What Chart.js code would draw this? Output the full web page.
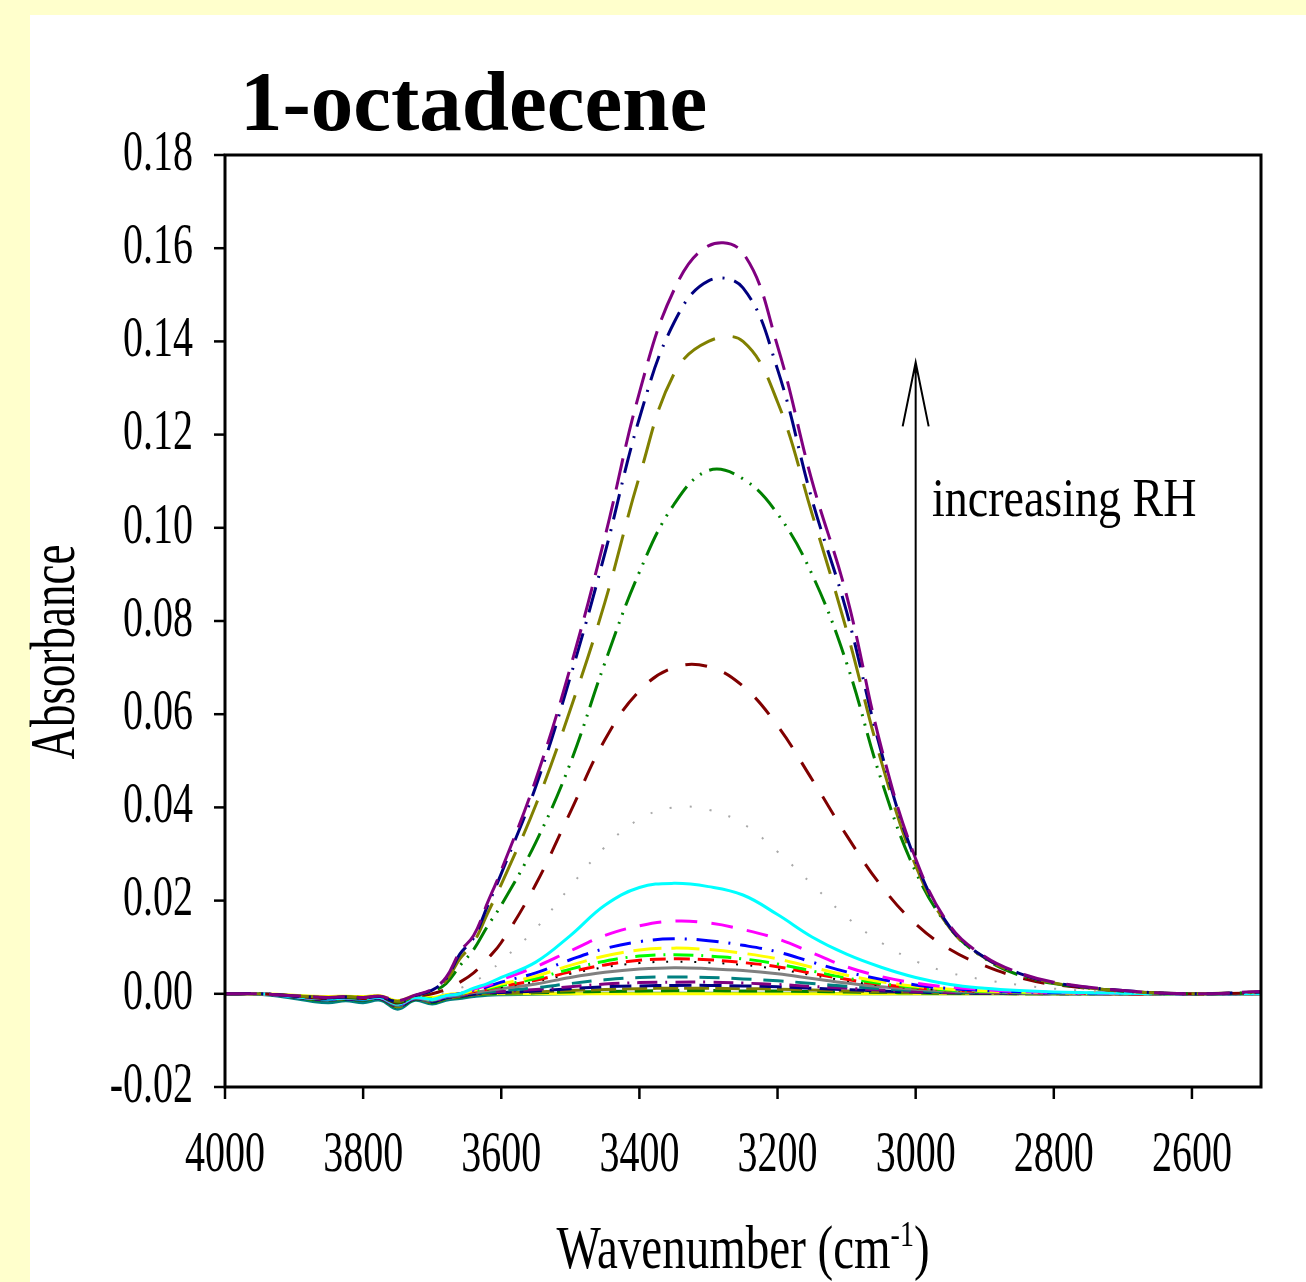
<!DOCTYPE html>
<html>
<head>
<meta charset="utf-8">
<script src="https://cdn.jsdelivr.net/npm/chart.js@4.4.1/dist/chart.umd.min.js"></script>
<style>
  html, body { margin: 0; padding: 0; background: #ffffcc; }
  #panel { position: absolute; left: 30px; top: 15px; width: 1276px; height: 1267px; background: #fff; }
  #spectra { position: absolute; left: 0; top: 0; }
</style>
</head>
<body>
<div id="panel"></div>
<canvas id="spectra" width="1306" height="1282"></canvas>
<script>
// wavenumber grid (cm-1) shared by every spectrum
const wavenumber = [4000, 3950, 3900, 3875, 3850, 3825, 3800, 3775, 3750, 3725, 3700, 3680, 3660, 3640, 3620, 3600,
  3550, 3500, 3450, 3400, 3350, 3300, 3250, 3200, 3150, 3100, 3050, 3000, 2950, 2900, 2850, 2800, 2700, 2600, 2500];

const xTicks = [4000, 3800, 3600, 3400, 3200, 3000, 2800, 2600];
const yTicks = [-0.02, 0.00, 0.02, 0.04, 0.06, 0.08, 0.10, 0.12, 0.14, 0.16, 0.18];

// absorbance, highest RH first
const absPurple = [0, 0, -0.0004, -0.0006, -0.0008, -0.0006, -0.0008, -0.0005, -0.0015, -0.0003, 0.0010, 0.0035, 0.0090, 0.0125, 0.0195, 0.0265,
  0.0460, 0.0700, 0.0980, 0.1290, 0.1510, 0.1605, 0.1590, 0.1390, 0.1100, 0.0855, 0.0530, 0.0290, 0.0145, 0.0080, 0.0045, 0.0025, 0.0007, 0.0000, 0.0005];
const absNavy = [0, 0, -0.0005, -0.0007, -0.0009, -0.0007, -0.0009, -0.0006, -0.0017, -0.0004, 0.0008, 0.0032, 0.0085, 0.0120, 0.0188, 0.0258,
  0.0445, 0.0680, 0.0945, 0.1235, 0.1440, 0.1530, 0.1515, 0.1340, 0.1060, 0.0820, 0.0520, 0.0285, 0.0142, 0.0078, 0.0044, 0.0024, 0.0007, 0.0000, 0.0004];
const absOlive = [0, 0, -0.0004, -0.0006, -0.0008, -0.0006, -0.0008, -0.0005, -0.0016, -0.0004, 0.0007, 0.0028, 0.0075, 0.0110, 0.0172, 0.0235,
  0.0405, 0.0610, 0.0840, 0.1110, 0.1330, 0.1400, 0.1400, 0.1270, 0.1030, 0.0780, 0.0500, 0.0275, 0.0140, 0.0077, 0.0043, 0.0023, 0.0006, 0.0000, 0.0004];
const absGreen = [0, 0, -0.0005, -0.0007, -0.0009, -0.0007, -0.0009, -0.0006, -0.0018, -0.0005, 0.0005, 0.0022, 0.0060, 0.0095, 0.0145, 0.0190,
  0.0325, 0.0495, 0.0710, 0.0905, 0.1050, 0.1123, 0.1105, 0.1030, 0.0900, 0.0710, 0.0460, 0.0262, 0.0140, 0.0076, 0.0040, 0.0022, 0.0006, 0.0000, 0.0003];
const absMaroon = [0, 0, -0.0005, -0.0008, -0.0010, -0.0008, -0.0010, -0.0007, -0.0020, -0.0006, 0.0000, 0.0010, 0.0025, 0.0045, 0.0075, 0.0110,
  0.0235, 0.0390, 0.0545, 0.0650, 0.0700, 0.0702, 0.0660, 0.0575, 0.0460, 0.0340, 0.0232, 0.0150, 0.0095, 0.0060, 0.0035, 0.0020, 0.0006, 0.0000, 0.0002];
const absSilver = [0, 0, -0.0005, -0.0008, -0.0010, -0.0008, -0.0010, -0.0007, -0.0020, -0.0006, -0.0002, 0.0004, 0.0012, 0.0025, 0.0045, 0.0070,
  0.0140, 0.0230, 0.0315, 0.0375, 0.0400, 0.0395, 0.0365, 0.0305, 0.0235, 0.0165, 0.0110, 0.0070, 0.0045, 0.0030, 0.0019, 0.0011, 0.0003, 0.0000, 0.0000];
const absCyan = [0, 0, -0.0006, -0.0009, -0.0011, -0.0009, -0.0011, -0.0008, -0.0022, -0.0008, -0.0012, -0.0004, 0.0000, 0.0012, 0.0022, 0.0035,
  0.0068, 0.0125, 0.0190, 0.0228, 0.0237, 0.0230, 0.0212, 0.0170, 0.0122, 0.0085, 0.0057, 0.0035, 0.0020, 0.0012, 0.0007, 0.0004, 0.0001, 0.0000, 0.0000];
const absMagenta = [0, 0, -0.0006, -0.0009, -0.0011, -0.0009, -0.0011, -0.0008, -0.0023, -0.0008, -0.0013, -0.0005, 0.0000, 0.0010, 0.0018, 0.0030,
  0.0058, 0.0092, 0.0125, 0.0146, 0.0156, 0.0152, 0.0138, 0.0118, 0.0088, 0.0058, 0.0037, 0.0023, 0.0014, 0.0009, 0.0005, 0.0003, 0.0001, 0.0000, 0.0000];
const absBlue = [0, 0, -0.0006, -0.0009, -0.0011, -0.0009, -0.0011, -0.0008, -0.0023, -0.0008, -0.0013, -0.0005, 0.0000, 0.0008, 0.0015, 0.0025,
  0.0045, 0.0073, 0.0097, 0.0112, 0.0118, 0.0114, 0.0104, 0.0090, 0.0068, 0.0047, 0.0031, 0.0019, 0.0011, 0.0007, 0.0004, 0.0002, 0.0001, 0.0000, 0.0000];
const absYellow = [0, 0, -0.0005, -0.0008, -0.0010, -0.0008, -0.0010, -0.0007, -0.0021, -0.0007, -0.0012, -0.0004, 0.0000, 0.0007, 0.0013, 0.0021,
  0.0038, 0.0061, 0.0081, 0.0094, 0.0098, 0.0095, 0.0087, 0.0075, 0.0057, 0.0040, 0.0026, 0.0016, 0.0010, 0.0006, 0.0004, 0.0002, 0.0001, 0.0000, 0.0000];
const absLime = [0, 0, -0.0004, -0.0007, -0.0009, -0.0007, -0.0009, -0.0006, -0.0019, -0.0006, -0.0011, -0.0004, 0.0000, 0.0006, 0.0011, 0.0018,
  0.0033, 0.0053, 0.0070, 0.0081, 0.0084, 0.0081, 0.0075, 0.0064, 0.0049, 0.0034, 0.0022, 0.0014, 0.0008, 0.0005, 0.0003, 0.0002, 0.0001, 0.0000, 0.0000];
const absRed = [0, 0, -0.0005, -0.0008, -0.0010, -0.0008, -0.0010, -0.0007, -0.0021, -0.0007, -0.0012, -0.0005, -0.0001, 0.0005, 0.0010, 0.0016,
  0.0029, 0.0047, 0.0062, 0.0072, 0.0075, 0.0073, 0.0067, 0.0058, 0.0044, 0.0031, 0.0020, 0.0013, 0.0008, 0.0005, 0.0003, 0.0002, 0.0000, 0.0000, 0.0000];
const absBlack = [0, 0, -0.0005, -0.0008, -0.0010, -0.0008, -0.0010, -0.0007, -0.0021, -0.0007, -0.0012, -0.0005, -0.0001, 0.0004, 0.0009, 0.0014,
  0.0026, 0.0043, 0.0057, 0.0066, 0.0069, 0.0067, 0.0062, 0.0053, 0.0040, 0.0028, 0.0018, 0.0012, 0.0007, 0.0004, 0.0003, 0.0001, 0.0000, 0.0000, 0.0000];
const absGray = [0, 0, -0.0006, -0.0009, -0.0011, -0.0009, -0.0011, -0.0008, -0.0024, -0.0009, -0.0014, -0.0006, -0.0002, 0.0003, 0.0007, 0.0011,
  0.0021, 0.0035, 0.0046, 0.0053, 0.0056, 0.0054, 0.0050, 0.0043, 0.0033, 0.0023, 0.0015, 0.0010, 0.0006, 0.0004, 0.0002, 0.0001, 0.0000, 0.0000, 0.0000];
const absTeal = [0, 0, -0.0006, -0.0010, -0.0012, -0.0010, -0.0012, -0.0009, -0.0025, -0.0010, -0.0015, -0.0007, -0.0003, 0.0001, 0.0004, 0.0007,
  0.0013, 0.0022, 0.0030, 0.0035, 0.0036, 0.0035, 0.0032, 0.0028, 0.0022, 0.0016, 0.0011, 0.0007, 0.0004, 0.0003, 0.0002, 0.0001, 0.0000, 0.0000, 0.0000];
const absPurple2 = [0, 0, -0.0006, -0.0010, -0.0012, -0.0010, -0.0012, -0.0009, -0.0026, -0.0010, -0.0016, -0.0008, -0.0004, 0.0000, 0.0003, 0.0005,
  0.0009, 0.0015, 0.0021, 0.0024, 0.0025, 0.0025, 0.0023, 0.0020, 0.0016, 0.0012, 0.0008, 0.0005, 0.0003, 0.0002, 0.0001, 0.0001, 0.0000, 0.0000, 0.0000];
const absNavy2 = [0, 0, -0.0007, -0.0011, -0.0013, -0.0011, -0.0013, -0.0010, -0.0027, -0.0011, -0.0017, -0.0009, -0.0005, -0.0001, 0.0002, 0.0003,
  0.0006, 0.0011, 0.0015, 0.0017, 0.0018, 0.0018, 0.0017, 0.0015, 0.0012, 0.0009, 0.0006, 0.0004, 0.0002, 0.0001, 0.0001, 0.0000, 0.0000, 0.0000, 0.0000];
const absOlive2 = [0, 0, -0.0007, -0.0011, -0.0013, -0.0011, -0.0013, -0.0010, -0.0028, -0.0011, -0.0018, -0.0010, -0.0006, -0.0002, 0.0001, 0.0002,
  0.0004, 0.0007, 0.0009, 0.0011, 0.0012, 0.0012, 0.0011, 0.0010, 0.0008, 0.0006, 0.0004, 0.0003, 0.0002, 0.0001, 0.0000, 0.0000, 0.0000, 0.0000, 0.0000];
const absGreen2 = [0, 0, -0.0007, -0.0012, -0.0014, -0.0012, -0.0014, -0.0011, -0.0029, -0.0012, -0.0019, -0.0011, -0.0007, -0.0003, 0.0000, 0.0001,
  0.0002, 0.0004, 0.0005, 0.0006, 0.0007, 0.0007, 0.0006, 0.0006, 0.0005, 0.0004, 0.0003, 0.0002, 0.0001, 0.0001, 0.0000, 0.0000, 0.0000, 0.0000, 0.0000];
const absYellow2 = [0, 0, -0.0003, -0.0005, -0.0006, -0.0005, -0.0006, -0.0004, -0.0015, -0.0004, -0.0008, -0.0002, 0.0000, 0.0000, 0.0000, 0.0000,
  0.0000, 0.0000, 0.0000, 0.0000, 0.0000, 0.0000, 0.0000, 0.0000, 0.0000, 0.0000, 0.0000, 0.0000, 0.0000, 0.0000, 0.0000, 0.0000, 0.0000, 0.0000, 0.0000];
const absTeal2 = [0, -0.0001, -0.0010, -0.0016, -0.0019, -0.0015, -0.0019, -0.0014, -0.0033, -0.0014, -0.0022, -0.0014, -0.0010, -0.0006, -0.0003, -0.0002,
  -0.0001, 0.0000, 0.0001, 0.0001, 0.0001, 0.0001, 0.0001, 0.0001, 0.0001, 0.0000, 0.0000, 0.0000, 0.0000, 0.0000, 0.0000, 0.0000, 0.0000, 0.0000, 0.0000];

// colour and dash of each trace (SigmaPlot style)
const traces = [
  [absPurple, "#800080", [32, 12]],
  [absNavy, "#000080", [26, 10, 2, 10]],
  [absOlive, "#808000", [38, 18]],
  [absGreen, "#008000", [26, 8, 2, 8, 2, 8]],
  [absMaroon, "#800000", [22, 18]],
  [absSilver, "#a8a8a8", [2, 18]],
  [absCyan, "#00ffff", []],
  [absMagenta, "#ff00ff", [22, 14]],
  [absBlue, "#0000ff", [22, 10, 2, 10]],
  [absYellow, "#ffff00", [28, 10]],
  [absLime, "#00ff00", [20, 8, 2, 8]],
  [absRed, "#ff0000", [16, 8]],
  [absBlack, "#000000", [2, 12]],
  [absGray, "#808080", []],
  [absTeal, "#008080", [20, 12]],
  [absPurple2, "#800080", [20, 8, 2, 8]],
  [absNavy2, "#000080", [22, 8]],
  [absOlive2, "#808000", [25, 6]],
  [absGreen2, "#008000", [18, 8]],
  [absYellow2, "#ffff00", []],
  [absTeal2, "#008080", []]
];

const datasets = traces.map(function (t) {
  return {
    data: wavenumber.map(function (w, i) { return { x: w, y: t[0][i] }; }),
    borderColor: t[1],
    borderDash: t[2],
    borderWidth: t[2].length && t[2][0] === 2 ? 2 : 3,
    pointRadius: 0,
    tension: 0.4,
    fill: false
  };
});

const SERIF = "'Liberation Serif', 'Times New Roman', serif";

// draws text squeezed horizontally like the original condensed font
function tallText(ctx, text, x, y, size, sy, align, baseline, rotate) {
  ctx.save();
  ctx.translate(x, y);
  if (rotate) ctx.rotate(rotate);
  ctx.scale(1, sy);
  ctx.font = size + "px " + SERIF;
  ctx.textAlign = align;
  ctx.textBaseline = baseline;
  ctx.fillText(text, 0, 0);
  ctx.restore();
}

const decor = {
  id: "decor",
  afterDraw(chart) {
    const ctx = chart.ctx;
    const a = chart.chartArea;
    const x = chart.scales.x;
    const y = chart.scales.y;
    ctx.save();
    ctx.fillStyle = "#000";
    ctx.strokeStyle = "#000";

    // frame
    ctx.lineWidth = 3;
    ctx.strokeRect(a.left, a.top, a.right - a.left, a.bottom - a.top);

    // y ticks + labels
    ctx.lineWidth = 2.5;
    y.ticks.forEach(function (t) {
      const py = y.getPixelForValue(t.value);
      ctx.beginPath();
      ctx.moveTo(a.left - 11, py);
      ctx.lineTo(a.left, py);
      ctx.stroke();
      tallText(ctx, t.value.toFixed(2), 193, py, 40, 1.4, "right", "middle");
    });

    // x ticks + labels
    x.ticks.forEach(function (t) {
      const px = x.getPixelForValue(t.value);
      ctx.beginPath();
      ctx.moveTo(px, a.bottom);
      ctx.lineTo(px, a.bottom + 12);
      ctx.stroke();
      tallText(ctx, String(t.value), px, 1156, 40, 1.4, "center", "middle");
    });

    // title
    ctx.font = "bold 85px " + SERIF;
    ctx.textAlign = "left";
    ctx.textBaseline = "alphabetic";
    ctx.fillText("1-octadecene", 240, 130);

    // y axis title
    tallText(ctx, "Absorbance", 57, 652, 45, 1.4, "center", "middle", -Math.PI / 2);

    // x axis title with superscript
    const main = "Wavenumber (cm";
    const sup = "-1";
    ctx.font = "47px " + SERIF;
    const wMain = ctx.measureText(main).width;
    const wClose = ctx.measureText(")").width;
    ctx.font = "28px " + SERIF;
    const wSup = ctx.measureText(sup).width;
    const x0 = (a.left + a.right) / 2 - (wMain + wSup + wClose) / 2;
    tallText(ctx, main, x0, 1268, 47, 1.3, "left", "alphabetic");
    tallText(ctx, sup, x0 + wMain, 1246, 28, 1.3, "left", "alphabetic");
    tallText(ctx, ")", x0 + wMain + wSup, 1268, 47, 1.3, "left", "alphabetic");

    // arrow "increasing RH"
    const ax = x.getPixelForValue(3000);
    const yTip = y.getPixelForValue(0.1355);
    const yEnd = y.getPixelForValue(0.0297);
    ctx.lineWidth = 2;
    ctx.beginPath();
    ctx.moveTo(ax, yEnd);
    ctx.lineTo(ax, yTip);
    ctx.moveTo(ax - 13, yTip + 64);
    ctx.lineTo(ax, yTip);
    ctx.lineTo(ax + 13, yTip + 64);
    ctx.stroke();
    tallText(ctx, "increasing RH", 932, 502, 46, 1.2, "left", "middle");

    ctx.restore();
  }
};

new Chart(document.getElementById("spectra").getContext("2d"), {
  type: "line",
  data: { datasets: datasets },
  options: {
    responsive: false,
    animation: false,
    devicePixelRatio: 1,
    layout: { padding: { top: 155, right: 45, left: 0, bottom: 0 } },
    plugins: { legend: { display: false }, tooltip: { enabled: false }, title: { display: false } },
    scales: {
      x: {
        type: "linear",
        reverse: true,
        min: 2500,
        max: 4000,
        grid: { display: false },
        border: { display: false },
        ticks: { display: false },
        afterBuildTicks: function (s) { s.ticks = xTicks.map(function (v) { return { value: v }; }); },
        afterFit: function (s) { s.height = 195; }
      },
      y: {
        type: "linear",
        min: -0.02,
        max: 0.18,
        grid: { display: false },
        border: { display: false },
        ticks: { display: false },
        afterBuildTicks: function (s) { s.ticks = yTicks.map(function (v) { return { value: v }; }); },
        afterFit: function (s) { s.width = 225; }
      }
    }
  },
  plugins: [decor]
});
</script>
</body>
</html>
